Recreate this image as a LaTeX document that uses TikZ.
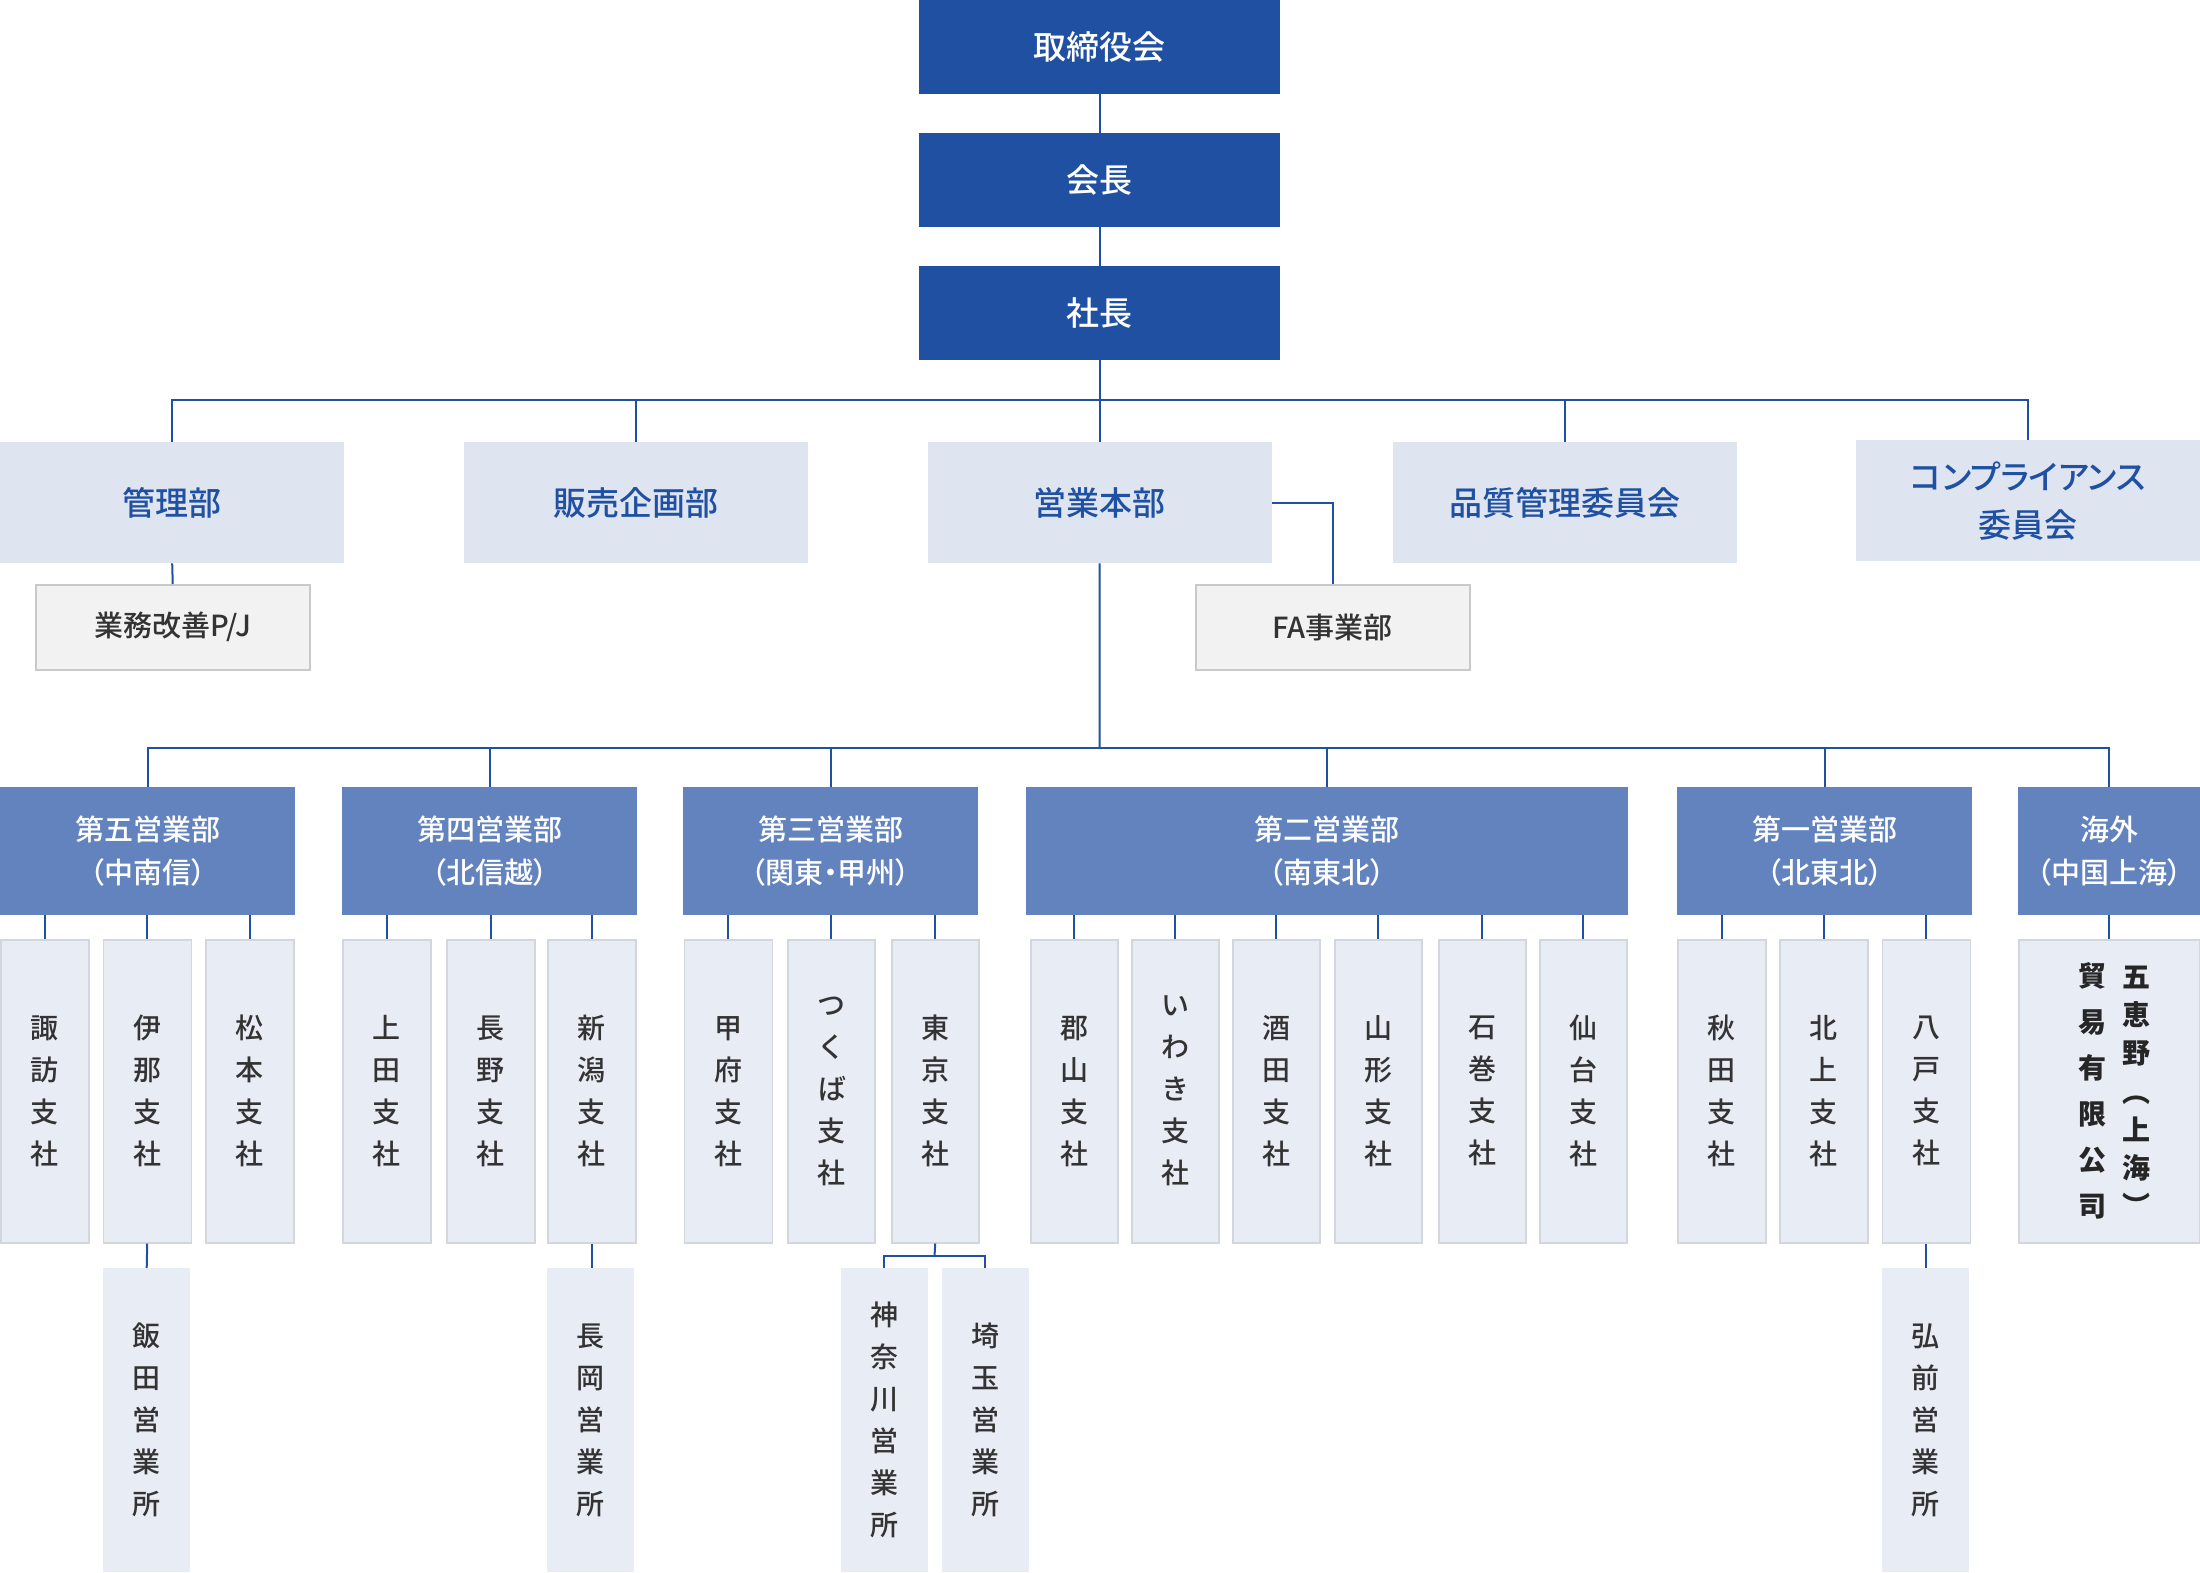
\documentclass[tikz,border=0pt]{standalone}
\usepackage{fontspec}
\setmainfont{Noto Sans CJK JP}[RawFeature={+palt}]
\newfontfamily\jpmed{Noto Sans CJK JP Medium}[RawFeature={+palt}]
\definecolor{cTop}{HTML}{1F50A2}
\definecolor{cLine}{HTML}{1F50A2}
\definecolor{cDept}{HTML}{DFE5F0}
\definecolor{cGray}{HTML}{F2F2F2}
\definecolor{cGrayB}{HTML}{C9C9C9}
\definecolor{cGrp}{HTML}{6283BE}
\definecolor{cBr}{HTML}{E8ECF5}
\definecolor{cBrB}{HTML}{D3D7DD}
\definecolor{cText}{HTML}{333333}
\newcommand\ob[7]{\node[#1,anchor=north west,minimum width=#5pt,minimum height=#6pt] (#2) at (#3,#4) {#7};}
\begin{document}
\begin{tikzpicture}[x=1pt,y=-1pt,
 conn/.style={draw=cLine,line width=2pt},
 topbox/.style={fill=cTop,text=white,inner sep=0pt,font=\jpmed\fontsize{33}{40}\selectfont},
 deptbox/.style={fill=cDept,text=cTop,inner sep=0pt,align=center,font=\jpmed\fontsize{33}{47.7}\selectfont},
 graybox/.style={fill=cGray,draw=cGrayB,line width=1.5pt,text=cText,inner sep=0pt,font=\jpmed\fontsize{29}{35}\selectfont},
 grpbox/.style={fill=cGrp,text=white,inner sep=0pt,align=center,font=\jpmed\fontsize{29}{43.5}\selectfont},
 brbox/.style={fill=cBr,draw=cBrB,line width=1.5pt,text=cText,inner sep=0pt,align=center,font=\jpmed\fontsize{28}{42}\selectfont},
 sbrbox/.style={fill=cBr,text=cText,inner sep=0pt,align=center,font=\jpmed\fontsize{28}{42}\selectfont},
 vcol/.style={text=black!85,inner sep=0pt,align=center},
]
\useasboundingbox (0,0) rectangle (2200,1572);
% top
\ob{topbox}{board}{919}{0}{361}{94}{取締役会}
\ob{topbox}{chair}{919}{133}{361}{94}{会長}
\ob{topbox}{pres}{919}{266}{361}{94}{社長}
% departments
\ob{deptbox}{kanri}{0}{442}{344}{121}{管理部}
\ob{deptbox}{hanbai}{464}{442}{344}{121}{販売企画部}
\ob{deptbox}{eigyo}{927.5}{442}{344}{121}{営業本部}
\ob{deptbox}{hinshitsu}{1393}{442}{344}{121}{品質管理委員会}
\ob{deptbox}{comp}{1856}{440}{344}{121}{コンプライアンス\\委員会}
\ob{graybox}{gyomu}{35}{584}{274}{85}{業務改善P/J}
\ob{graybox}{fa}{1195}{584}{274}{85}{FA事業部}
% groups
\ob{grpbox}{g5}{0}{787}{295}{128}{第五営業部\\（中南信）}
\ob{grpbox}{g4}{342}{787}{295}{128}{第四営業部\\（北信越）}
\ob{grpbox}{g3}{683}{787}{295}{128}{第三営業部\\（関東・甲州）}
\ob{grpbox}{g2}{1026}{787}{602}{128}{第二営業部\\（南東北）}
\ob{grpbox}{g1}{1677}{787}{295}{128}{第一営業部\\（北東北）}
\ob{grpbox}{g0}{2018}{787}{182}{128}{海外\\（中国上海）}
% branches
\ob{brbox}{suwa}{0}{939}{88}{303}{諏\\訪\\支\\社}
\ob{brbox}{ina}{102.5}{939}{88}{303}{伊\\那\\支\\社}
\ob{brbox}{matsu}{205}{939}{88}{303}{松\\本\\支\\社}
\ob{brbox}{ueda}{342}{939}{88}{303}{上\\田\\支\\社}
\ob{brbox}{nagano}{446}{939}{88}{303}{長\\野\\支\\社}
\ob{brbox}{niigata}{547}{939}{88}{303}{新\\潟\\支\\社}
\ob{brbox}{kofu}{683.5}{939}{88}{303}{甲\\府\\支\\社}
\ob{brbox}{tsukuba}{787}{939}{87}{303}{つ\\く\\ば\\支\\社}
\ob{brbox}{tokyo}{891}{939}{87}{303}{東\\京\\支\\社}
\ob{brbox}{kori}{1030}{939}{87}{303}{郡\\山\\支\\社}
\ob{brbox}{iwaki}{1131}{939}{87}{303}{い\\わ\\き\\支\\社}
\ob{brbox}{sakata}{1232}{939}{87}{303}{酒\\田\\支\\社}
\ob{brbox}{yamagata}{1334}{939}{87}{303}{山\\形\\支\\社}
\ob{brbox}{ishi}{1438}{939}{87}{303}{石\\巻\\支\\社}
\ob{brbox}{sendai}{1539}{939}{87}{303}{仙\\台\\支\\社}
\ob{brbox}{akita}{1677}{939}{88}{303}{秋\\田\\支\\社}
\ob{brbox}{kitakami}{1779}{939}{88}{303}{北\\上\\支\\社}
\ob{brbox}{hachi}{1881.5}{939}{88}{303}{八\\戸\\支\\社}
\ob{brbox}{goe}{2018}{939}{181}{303}{}
\node[vcol,font=\fontsize{28}{38.2}\selectfont\bfseries,xshift=27pt] (goeR) at (goe.center) {五\\恵\\野\\︵\\上\\海\\︶};
\node[vcol,font=\fontsize{28}{46}\selectfont\bfseries,xshift=-16.5pt] (goeL) at (goe.center) {貿\\易\\有\\限\\公\\司};
% sub branches
\ob{sbrbox}{iida}{103}{1268}{87}{304}{飯\\田\\営\\業\\所}
\ob{sbrbox}{nagaoka}{547}{1268}{87}{304}{長\\岡\\営\\業\\所}
\ob{sbrbox}{kana}{840.5}{1268}{87}{304}{神\\奈\\川\\営\\業\\所}
\ob{sbrbox}{saitama}{941.5}{1268}{87}{304}{埼\\玉\\営\\業\\所}
\ob{sbrbox}{hirosaki}{1881.5}{1268}{87}{304}{弘\\前\\営\\業\\所}
% connectors
\draw[conn] (board.south) -- (chair.north);
\draw[conn] (chair.south) -- (pres.north);
\coordinate (b1) at (1099.5,400);
\draw[conn] (pres.south) -- (eigyo.north);
\draw[conn] (kanri.north) |- (b1) -| (comp.north);
\draw[conn] (hanbai.north) -- (hanbai.north |- b1);
\draw[conn] (hinshitsu.north) -- (hinshitsu.north |- b1);
\draw[conn] (kanri.south) -- (gyomu.north);
\draw[conn] (eigyo.east) -| (fa.north);
\coordinate (b2) at (1099.5,748);
\draw[conn] (eigyo.south) -- (b2);
\draw[conn] (g5.north) |- (b2) -| (g0.north);
\foreach \g in {g4,g3,g2,g1} \draw[conn] (\g.north) -- (\g.north |- b2);
\foreach \g/\b in {g5/suwa,g5/ina,g5/matsu,g4/ueda,g4/nagano,g4/niigata,g3/kofu,g3/tsukuba,g3/tokyo,g2/kori,g2/iwaki,g2/sakata,g2/yamagata,g2/ishi,g2/sendai,g1/akita,g1/kitakami,g1/hachi,g0/goe}
  \draw[conn] (\g.south -| \b.north) -- (\b.north);
\draw[conn] (ina.south) -- (iida.north);
\draw[conn] (niigata.south) -- (niigata.south |- nagaoka.north);
\draw[conn] (hachi.south) -- (hachi.south |- hirosaki.north);
\coordinate (tk) at (934.5,1256);
\draw[conn] (tokyo.south) -- (tk);
\draw[conn] (kana.north) |- (tk) -| (saitama.north);
\end{tikzpicture}
\end{document}
